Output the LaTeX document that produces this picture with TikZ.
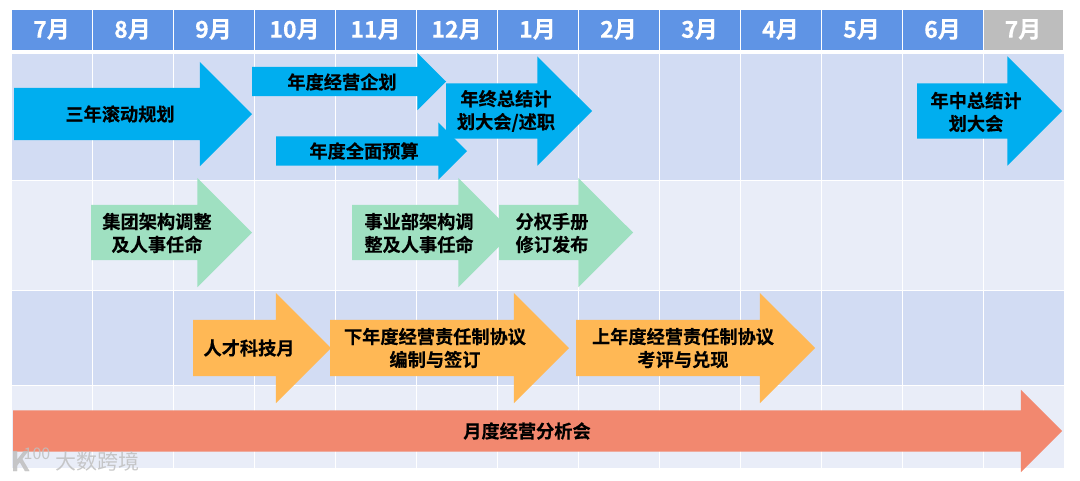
\documentclass[tikz,border=0pt]{standalone}
\usepackage{fontspec}
\setmainfont{Noto Sans CJK SC}[BoldFont={* Bold},BoldFeatures={FakeBold=0.4}]
\usetikzlibrary{shapes.arrows}
\definecolor{headblue}{HTML}{5F94E5}
\definecolor{headgrey}{HTML}{BDBDBD}
\definecolor{banddark}{HTML}{D2DCF3}
\definecolor{bandlight}{HTML}{E9EDF8}
\definecolor{arrblue}{HTML}{00AEEF}
\definecolor{arrgreen}{HTML}{9FE0C1}
\definecolor{arrorange}{HTML}{FFB855}
\definecolor{arrsalmon}{HTML}{F2886F}
\begin{document}
\begin{tikzpicture}[
      x=1pt,y=-1pt,
      cell/.style={draw=white,line width=1pt,anchor=north west,inner sep=0pt,outer sep=0pt,
                   minimum width=81pt},
      month/.style={cell,minimum height=41pt,font=\fontsize{23}{23}\selectfont\bfseries,text=white},
      blockarr/.style n args={3}{single arrow,single arrow head extend=#3,
                  single arrow tip angle=90,single arrow head indent=0pt,
                  minimum height=#1,anchor=tail,
                  inner xsep=0pt,inner ysep=#2,outer sep=0pt},
      lbl/.style={align=center,inner sep=0pt,font=\fontsize{18.2}{23}\selectfont\bfseries,text=black},
      wmark/.style={text=gray!50,opacity=0.85,inner sep=0pt}
    ]
    \useasboundingbox (0,0) rectangle (1080,480);
    % Month bar
    \foreach \lab [count=\i from 0] in {7月,8月,9月,10月,11月,12月,1月,2月,3月,4月,5月,6月} {
      \node[month,fill=headblue] (m\i) at (11+81*\i,9) {\lab};
    }
    \node[month,fill=headgrey,minimum width=80pt] (m12) at (983,9) {7月};
    % Bands
    \foreach \i in {0,...,12} {
      \node[cell,fill=banddark,minimum height=127pt] (a\i) at (11+81*\i,53) {};
      \node[cell,fill=bandlight,minimum height=110pt] (b\i) at (11+81*\i,180) {};
      \node[cell,fill=banddark,minimum height=95pt] (c\i) at (11+81*\i,290) {};
      \node[cell,fill=bandlight,minimum height=83pt] (d\i) at (11+81*\i,385) {};
    }
    % Planning row
    \node[blockarr={238pt}{26pt}{26pt},fill=arrblue] (plan) at (14,114) {};
    \node[blockarr={194pt}{14.5pt}{14pt},fill=arrblue] (yearplan) at (252,81.5) {};
    \node[blockarr={146pt}{27.5pt}{27pt},fill=arrblue] (yearend) at (446,111) {};
    \node[blockarr={191pt}{14.5pt}{14pt},fill=arrblue] (budget) at (276,151) {};
    \node[blockarr={145pt}{27.5pt}{27pt},fill=arrblue] (midyear) at (917,111) {};
    \node[lbl] (plant) at (120,114) {三年滚动规划};
    \node[lbl] (yearplant) at (342,82) {年度经营企划};
    \node[lbl] (budgett) at (364,151) {年度全面预算};
    \node[lbl] (yearendt) at (506,111) {年终总结计\\划大会/述职};
    \node[lbl] (midyeart) at (976,112) {年中总结计\\划大会};
    % Organisation row
    \node[blockarr={161pt}{27.5pt}{27pt},fill=arrgreen] (group) at (91,232.5) {};
    \node[blockarr={161pt}{27.5pt}{27pt},fill=arrgreen] (division) at (352,232.5) {};
    \node[blockarr={134pt}{27.5pt}{27pt},fill=arrgreen] (manual) at (499,232.5) {};
    \node[lbl] (groupt) at (157,233) {集团架构调整\\及人事任命};
    \node[lbl] (divisiont) at (419,233) {事业部架构调\\整及人事任命};
    \node[lbl] (manualt) at (552,233) {分权手册\\修订发布};
    % Contract row
    \node[blockarr={138pt}{28pt}{27pt},fill=arrorange] (talent) at (193,348) {};
    \node[blockarr={239pt}{28pt}{27pt},fill=arrorange] (nextyear) at (330,348) {};
    \node[blockarr={239pt}{28pt}{27pt},fill=arrorange] (lastyear) at (576,348) {};
    \node[lbl] (talentt) at (249,348) {人才科技月};
    \node[lbl] (nextyeart) at (435,348) {下年度经营责任制协议\\编制与签订};
    \node[lbl] (lastyeart) at (683,348) {上年度经营责任制协议\\考评与兑现};
    % Monthly meeting
    \node[blockarr={1049pt}{20.5pt}{20.5pt},fill=arrsalmon] (monthly) at (13,431) {};
    \node[lbl] (monthlyt) at (527,431) {月度经营分析会};
    % Watermark
    \node[wmark,font=\fontsize{21}{21}\selectfont] (wmtext) at (98,461) {大数跨境};
    \node[wmark,font=\fontsize{27}{27}\selectfont\bfseries] (wmk) at (20,461) {K};
    \node[wmark,font=\fontsize{16}{16}\selectfont] (wmnum) at (37,454) {100};
  \end{tikzpicture}
\end{document}
